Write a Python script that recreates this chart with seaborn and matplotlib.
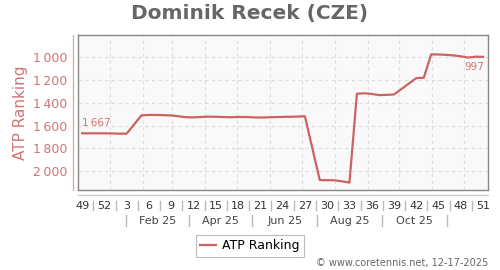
import datetime as dt
import numpy as np
import pandas as pd
import matplotlib
matplotlib.use("Agg")
import matplotlib.pyplot as plt
import matplotlib.dates as mdates
import matplotlib.transforms as mtransforms
from matplotlib.lines import Line2D
import seaborn as sns

# ---- data ----
years = [2024, 2024, 2024, 2024,
         2025, 2025, 2025, 2025, 2025, 2025, 2025, 2025, 2025, 2025,
         2025, 2025, 2025, 2025, 2025, 2025, 2025, 2025, 2025, 2025,
         2025, 2025, 2025, 2025, 2025, 2025, 2025, 2025, 2025, 2025,
         2025, 2025, 2025, 2025, 2025, 2025, 2025, 2025, 2025, 2025,
         2025, 2025, 2025, 2025, 2025, 2025, 2025]
weeks = [49, 50, 51, 52,
         1, 2, 3, 5, 6, 7, 8, 9, 10, 11,
         12, 13, 14, 15, 16, 17, 18, 19, 20, 21,
         22, 23, 24, 25, 26, 27, 29, 30, 31, 32,
         33, 34, 35, 36, 37, 38, 39, 42, 43, 44,
         45, 46, 47, 48, 49, 50, 51]
ranks = [1667, 1667, 1667, 1667,
         1668, 1670, 1670, 1509, 1506, 1506, 1508, 1510, 1518, 1526,
         1527, 1524, 1521, 1522, 1524, 1526, 1524, 1524, 1527, 1529,
         1527, 1525, 1523, 1522, 1520, 1518, 2077, 2078, 2079, 2088,
         2099, 1320, 1316, 1322, 1332, 1330, 1326, 1183, 1180, 975,
         976, 979, 984, 992, 1003, 995, 997]

tick_years = [2024, 2024] + [2025] * 17
tick_weeks = [49, 52, 3, 6, 9, 12, 15, 18, 21, 24, 27, 30, 33, 36, 39, 42, 45, 48, 51]
month_labels = ["Feb 25", "Apr 25", "Jun 25", "Aug 25", "Oct 25"]
month_label_months = [2, 4, 6, 8, 10]
y_ticks = [1000, 1200, 1400, 1600, 1800, 2000]
series_name = "ATP Ranking"
title = "Dominik Recek (CZE)"
credit = "\u00a9 www.coretennis.net, 12-17-2025"

LINE = "#cc6363"
TXT_RED = "#d07474"


def wdate(y, w):
    return pd.Timestamp(dt.date.fromisocalendar(y, w, 5))


df = pd.DataFrame({"date": [wdate(y, w) for y, w in zip(years, weeks)],
                   "rank": ranks})

fig = plt.figure(figsize=(5, 2.7), dpi=100)
W, H = 500, 270
ax = fig.add_axes([78 / W, 1 - 190 / H, 410 / W, 155 / H])
ax.set_facecolor("#f9f9f9")

sns.lineplot(data=df, x="date", y="rank", ax=ax, color=LINE, lw=1.6,
             label=series_name, legend=False)

d0 = mdates.date2num(df["date"].iloc[0])
d1 = mdates.date2num(df["date"].iloc[-1])
ax.set_xlim(d0 - 0.55 * 7, d1 + 0.65 * 7)
ax.set_ylim(2164, 805)

# grid
ax.set_yticks(y_ticks)
ax.set_yticklabels([f"{v:,}".replace(",", "\u2009") for v in y_ticks])
ax.yaxis.grid(True, ls=(0, (3, 3)), color="#dddddd", lw=0.8)
for m in range(1, 13):
    md = mdates.date2num(pd.Timestamp(2025, m, 1))
    if ax.get_xlim()[0] < md < ax.get_xlim()[1]:
        ax.axvline(md, ls=(0, (3, 3)), color="#dddddd", lw=0.8, zorder=0)
ax.set_axisbelow(True)

ax.tick_params(axis="y", length=0, pad=8, labelsize=9, labelcolor=TXT_RED)
tick_dates = [mdates.date2num(wdate(y, w)) for y, w in zip(tick_years, tick_weeks)]
ax.set_xticks(tick_dates)
ax.set_xticklabels([str(w) for w in tick_weeks])
ax.tick_params(axis="x", length=0, pad=8, labelsize=8, labelcolor="#333333")
ax.set_xlabel("")
ax.set_ylabel("")

for s in ax.spines.values():
    s.set_color("#888888")
    s.set_linewidth(1.0)

# separators between week labels
bt = mtransforms.blended_transform_factory(ax.transData, fig.transFigure)
for a, b in zip(tick_dates[:-1], tick_dates[1:]):
    xm = (a + b) / 2
    fig.add_artist(Line2D([xm, xm], [1 - 200.5 / H, 1 - 209.5 / H], transform=bt,
                          color="#bbbbbb", lw=1))

# month labels and separators
mpos = [mdates.date2num(pd.Timestamp(2025, m, 15)) for m in month_label_months]
for x, lab in zip(mpos, month_labels):
    fig.text(x, 1 - 221 / H, lab, transform=bt, ha="center", va="center",
             fontsize=8, color="#444444")
seps = [mpos[0] - (mpos[1] - mpos[0]) / 2]
seps += [(a + b) / 2 for a, b in zip(mpos[:-1], mpos[1:])]
seps += [mpos[-1] + (mpos[-1] - mpos[-2]) / 2]
for xm in seps:
    fig.add_artist(Line2D([xm, xm], [1 - 214.5 / H, 1 - 225.5 / H], transform=bt,
                          color="#bbbbbb", lw=1))

# extra axis lines
fig.add_artist(Line2D([73 / W, 73 / W], [1 - 35 / H, 1 - 190 / H],
                      transform=fig.transFigure, color="#e0aaaa", lw=1))
fig.add_artist(Line2D([78 / W, 488 / W], [1 - 195 / H, 1 - 195 / H],
                      transform=fig.transFigure, color="#cccccc", lw=1))

# annotations
first_lab = f"{ranks[0]:,}".replace(",", "\u2009")
ax.annotate(first_lab, (d0, ranks[0]), xytext=(0, 4), textcoords="offset points",
            ha="left", va="bottom", fontsize=7.5, color=TXT_RED)
ax.annotate(f"{ranks[-1]:,}".replace(",", "\u2009"), (d1, ranks[-1]), xytext=(1, -4),
            textcoords="offset points", ha="right", va="top", fontsize=7.5, color=TXT_RED)

# titles
fig.text(0.5, 1 - 13 / H, title, ha="center", va="center", fontsize=14.5,
         fontweight="bold", color="#666666")
fig.text(21 / W, 1 - 112.5 / H, series_name, rotation=90, ha="center", va="center",
         fontsize=11, color=TXT_RED)
fig.text(488 / W, 1 - 263 / H, credit, ha="right", va="center", fontsize=7,
         color="#666666")

# legend
handle = Line2D([], [], color=LINE, lw=1.6)
leg = fig.legend([handle], [series_name], loc="center",
                 bbox_to_anchor=(250 / W, 1 - 246 / H), frameon=True,
                 fontsize=9, handlelength=1.3, handletextpad=0.5,
                 borderpad=0.35, fancybox=False)
leg.get_frame().set_edgecolor("#aaaaaa")
leg.get_frame().set_linewidth(0.8)

fig.savefig("out.png", dpi=100)
